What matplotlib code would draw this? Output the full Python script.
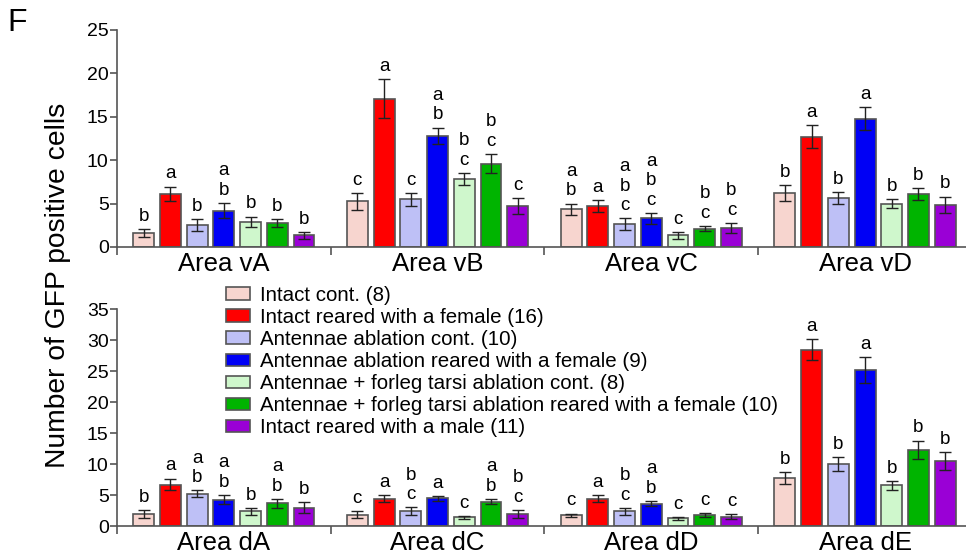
import numpy as np
import matplotlib.pyplot as plt
from matplotlib.patches import Patch

plt.rcParams['font.family'] = ['Liberation Sans', 'DejaVu Sans']

groups = ["Intact cont. (8)",
          "Intact reared with a female (16)",
          "Antennae ablation cont. (10)",
          "Antennae ablation reared with a female (9)",
          "Antennae + forleg tarsi ablation cont. (8)",
          "Antennae + forleg tarsi ablation reared with a female (10)",
          "Intact reared with a male (11)"]
colors = ["#F7D5CF", "#FF0000", "#BEC0F6", "#0000F5",
          "#CFF7CC", "#00B400", "#9A00D6"]

# ventral areas
areas_v = ["Area vA", "Area vB", "Area vC", "Area vD"]
mean_v = [[1.6, 6.1, 2.5, 4.2, 2.9, 2.8, 1.35],
          [5.25, 17.1, 5.5, 12.8, 7.8, 9.6, 4.7],
          [4.35, 4.7, 2.65, 3.3, 1.35, 2.1, 2.2],
          [6.25, 12.7, 5.65, 14.8, 5.0, 6.1, 4.85]]
sem_v = [[0.45, 0.85, 0.7, 0.9, 0.6, 0.45, 0.4],
         [0.95, 2.2, 0.75, 0.95, 0.7, 1.1, 0.9],
         [0.65, 0.7, 0.65, 0.6, 0.4, 0.3, 0.6],
         [0.9, 1.3, 0.7, 1.35, 0.55, 0.65, 0.95]]
sig_v = [["b", "a", "b", "ab", "b", "b", "b"],
         ["c", "a", "c", "ab", "bc", "bc", "c"],
         ["ab", "a", "abc", "abc", "c", "bc", "bc"],
         ["b", "a", "b", "a", "b", "b", "b"]]

# dorsal areas
areas_d = ["Area dA", "Area dC", "Area dD", "Area dE"]
mean_d = [[1.95, 6.7, 5.2, 4.25, 2.35, 3.65, 2.95],
          [1.85, 4.4, 2.4, 4.45, 1.4, 3.95, 1.95],
          [1.75, 4.4, 2.4, 3.6, 1.25, 1.8, 1.5],
          [7.7, 28.5, 10.0, 25.2, 6.55, 12.3, 10.5]]
sem_d = [[0.6, 0.95, 0.55, 0.75, 0.55, 0.75, 0.85],
         [0.55, 0.6, 0.6, 0.33, 0.27, 0.38, 0.65],
         [0.25, 0.55, 0.55, 0.4, 0.25, 0.3, 0.38],
         [0.95, 1.7, 1.1, 2.15, 0.7, 1.5, 1.5]]
sig_d = [["b", "a", "ab", "ab", "b", "ab", "b"],
         ["c", "a", "bc", "a", "c", "ab", "bc"],
         ["c", "a", "bc", "ab", "c", "c", "c"],
         ["b", "a", "b", "a", "b", "b", "b"]]

edge = "#555555"
pitch = 0.125
width = 0.098


def draw_panel(ax, areas, means, sems, sigs, ymax):
    for g, area in enumerate(areas):
        xs = g + 0.5 + (np.arange(7) - 3) * pitch
        ax.bar(xs, means[g], width=width, color=colors, edgecolor=edge,
               linewidth=1.2, zorder=2)
        ax.errorbar(xs, means[g], yerr=sems[g], fmt="none", ecolor="#222222",
                    elinewidth=1.0, capsize=4, capthick=1.0, zorder=3)
        # significance letters stacked above each error bar
        for x, m, s, lab in zip(xs, means[g], sems[g], sigs[g]):
            ax.annotate("\n".join(lab), (x, m + s), xytext=(0, 3),
                        textcoords="offset points", ha="center", va="bottom",
                        fontsize=13.5, linespacing=1.2)
        ax.text(g + 0.5, -0.022, area, transform=ax.get_xaxis_transform(),
                ha="center", va="top", fontsize=18.5)
    ax.set_xlim(0, 4)
    ax.set_ylim(0, ymax)
    ax.set_yticks(np.arange(0, ymax + 1, 5))
    ax.set_xticks([0, 1, 2, 3, 4])
    ax.set_xticklabels([])
    ax.tick_params(axis="x", length=6, width=1.2, color=edge, direction="out")
    ax.tick_params(axis="y", length=5, width=1.2, color=edge, labelsize=14,
                   pad=1)
    for side in ("top", "right"):
        ax.spines[side].set_visible(False)
    for side in ("left", "bottom"):
        ax.spines[side].set_color(edge)
        ax.spines[side].set_linewidth(1.2)


fig = plt.figure(figsize=(9.66, 5.54), dpi=100)
ax_top = fig.add_axes([0.1211, 0.5542, 0.885, 0.3917])
ax_bot = fig.add_axes([0.1211, 0.0505, 0.885, 0.3912])

draw_panel(ax_top, areas_v, mean_v, sem_v, sig_v, 25)
draw_panel(ax_bot, areas_d, mean_d, sem_d, sig_d, 35)

handles = [Patch(facecolor=c, edgecolor=edge, linewidth=1.2) for c in colors]
fig.legend(handles, groups, loc="upper left", bbox_to_anchor=(0.2255, 0.499),
           frameon=False, fontsize=14.8, handlelength=1.15, handleheight=0.55,
           handletextpad=0.5, labelspacing=0.15, borderaxespad=0)

fig.text(0.060, 0.484, "Number of GFP positive cells", rotation=90,
         ha="center", va="center", fontsize=20.3)
fig.text(0.008, 0.985, "F", ha="left", va="top", fontsize=23)

fig.savefig("out.png", dpi=100)
